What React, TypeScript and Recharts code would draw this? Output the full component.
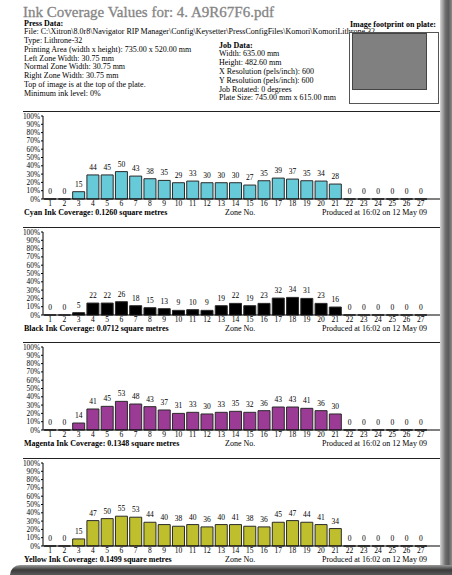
import { BarChart, Bar, XAxis, YAxis, LabelList } from "recharts";

const zones = ["1", "2", "3", "4", "5", "6", "7", "8", "9", "10", "11", "12", "13", "14", "15", "16", "17", "18", "19", "20", "21", "22", "23", "24", "25", "26", "27"];
const yTicks = [0, 10, 20, 30, 40, 50, 60, 70, 80, 90, 100];

// bar heights = coverage % per zone, labels = key values printed above each bar
const cyanCoverage = [0, 0, 8.8, 29, 29, 33, 27.6, 24.4, 22.4, 19.6, 21.6, 19.6, 19.6, 19.6, 16.8, 22, 25.2, 24, 22, 21.6, 18, 0, 0, 0, 0, 0, 0];
const cyanKeys = [0, 0, 15, 44, 45, 50, 43, 38, 35, 29, 33, 30, 30, 30, 27, 35, 39, 37, 35, 34, 28, 0, 0, 0, 0, 0, 0];
const blackCoverage = [0, 0, 2.8, 14.4, 14.4, 16, 11.2, 8.8, 7.6, 5.6, 6.4, 5.6, 11.2, 14, 11.2, 14, 20.4, 21.2, 20, 14, 9.6, 0, 0, 0, 0, 0, 0];
const blackKeys = [0, 0, 5, 22, 22, 26, 18, 15, 13, 9, 10, 9, 19, 22, 19, 23, 32, 34, 31, 23, 16, 0, 0, 0, 0, 0, 0];
const magentaCoverage = [0, 0, 8.4, 25.3, 28.5, 34.5, 31.3, 28.1, 24.1, 20, 21.3, 19.3, 21.3, 22.5, 21.3, 23.3, 27.7, 27.7, 26.1, 23.3, 19.3, 0, 0, 0, 0, 0, 0];
const magentaKeys = [0, 0, 14, 41, 45, 53, 48, 43, 37, 31, 33, 30, 33, 35, 32, 36, 43, 43, 41, 36, 30, 0, 0, 0, 0, 0, 0];
const yellowCoverage = [0, 0, 8.5, 30.6, 33, 35.9, 34.7, 28.6, 25.8, 23.8, 25.8, 23, 25.8, 25.8, 23.8, 23, 28.6, 30.6, 28.6, 25.8, 21, 0, 0, 0, 0, 0, 0];
const yellowKeys = [0, 0, 15, 47, 50, 55, 53, 44, 40, 38, 40, 36, 40, 41, 38, 36, 45, 47, 44, 41, 34, 0, 0, 0, 0, 0, 0];

const pressLines = [
  "File: C:\\Xitron\\8.0r8\\Navigator RIP Manager\\Config\\Keysetter\\PressConfigFiles\\Komori\\KomoriLithrone 32",
  "Type: Lithrone-32",
  "Printing Area (width x height): 735.00 x 520.00 mm",
  "Left Zone Width: 30.75 mm",
  "Normal Zone Width: 30.75 mm",
  "Right Zone Width: 30.75 mm",
  "Top of image is at the top of the plate.",
  "Minimum ink level: 0%",
];
const jobLines = [
  "Width: 635.00 mm",
  "Height: 482.60 mm",
  "X Resolution (pels/inch): 600",
  "Y Resolution (pels/inch): 600",
  "Job Rotated: 0 degrees",
  "Plate Size: 745.00 mm x 615.00 mm",
];

const serif = "'Liberation Serif', 'DejaVu Serif', serif";

const KeyLabel = (props: any) => {
  const { x, y, width, value } = props;
  return (
    <text x={x + width / 2} y={y - 7.5} textAnchor="middle" dominantBaseline="central" fontSize={7.5} fontFamily={serif} fill="#000">
      {value}
    </text>
  );
};

type PanelProps = {
  top: number;
  color: string;
  coverage: number[];
  keys: number[];
  caption: string;
};

const InkPanel = ({ top, color, coverage, keys, caption }: PanelProps) => {
  const data = zones.map((z, i) => ({ zone: z, coverage: coverage[i], key: keys[i] }));
  return (
    <div style={{ position: "absolute", left: 0, top, width: 452, height: 115 }}>
      <div style={{ position: "absolute", left: 23, top: 0, width: 417, borderTop: "1px solid #222" }} />
      <BarChart width={452} height={100} data={data} margin={{ top: 5, right: 12, left: 0, bottom: 0 }} barCategoryGap="8%">
        <XAxis
          dataKey="zone"
          interval={0}
          tickLine={false}
          tickSize={0}
          axisLine={{ stroke: "#000" }}
          padding={{ left: 0, right: 12 }}
          height={12}
          tickMargin={2}
          tick={{ fontSize: 7.5, fill: "#000", fontFamily: serif }}
        />
        <YAxis
          domain={[0, 100]}
          ticks={yTicks}
          width={43}
          interval={0}
          tickFormatter={(v) => v + "%"}
          tickSize={2}
          tickMargin={1}
          axisLine={{ stroke: "#000" }}
          tickLine={{ stroke: "#000" }}
          tick={{ fontSize: 7.3, fill: "#000", fontFamily: serif }}
        />
        <Bar dataKey="coverage" fill={color} stroke="#2a2a2a" strokeWidth={1} minPointSize={0.01} isAnimationActive={false}>
          <LabelList dataKey="key" content={KeyLabel} />
        </Bar>
      </BarChart>
      <div style={{ position: "absolute", left: 24, top: 97, fontSize: 8, lineHeight: "10px", fontWeight: "bold", whiteSpace: "nowrap" }}>{caption}</div>
      <div style={{ position: "absolute", left: 225, top: 97, fontSize: 8, lineHeight: "10px", whiteSpace: "nowrap" }}>Zone No.</div>
      <div style={{ position: "absolute", left: 322, top: 97, fontSize: 8, lineHeight: "10px", whiteSpace: "nowrap" }}>Produced at 16:02 on 12 May 09</div>
    </div>
  );
};

export default function App() {
  return (
    <div style={{ position: "absolute", left: 0, top: 0, width: 452, height: 575, background: "#fff", overflow: "hidden", fontFamily: serif, color: "#000" }}>
      <div style={{ position: "absolute", left: 23, top: 2, fontSize: 15, lineHeight: "20px", color: "#858585", whiteSpace: "nowrap", WebkitTextStroke: "0.3px #858585" }}>
        Ink Coverage Values for: 4. A9R67F6.pdf
      </div>
      <div style={{ position: "absolute", left: 24, top: 19.5, fontSize: 8, lineHeight: "8.75px", whiteSpace: "nowrap" }}>
        <div style={{ fontWeight: "bold" }}>Press Data:</div>
        {pressLines.map((l) => (
          <div key={l}>{l}</div>
        ))}
      </div>
      <div style={{ position: "absolute", left: 219, top: 41.6, fontSize: 8, lineHeight: "8.8px", whiteSpace: "nowrap" }}>
        <div style={{ fontWeight: "bold" }}>Job Data:</div>
        {jobLines.map((l) => (
          <div key={l}>{l}</div>
        ))}
      </div>
      <div style={{ position: "absolute", left: 350, top: 19.5, fontSize: 8, lineHeight: "9px", fontWeight: "bold", whiteSpace: "nowrap" }}>
        Image footprint on plate:
      </div>
      <div style={{ position: "absolute", left: 349, top: 32, width: 88, height: 70, border: "1px solid #555", background: "#fff" }}>
        <div style={{ position: "absolute", left: 2, top: 0, width: 73, height: 55, background: "#808080", border: "1px solid #444" }} />
      </div>

      <InkPanel top={111} color="#66cad8" coverage={cyanCoverage} keys={cyanKeys} caption="Cyan Ink Coverage: 0.1260 square metres" />
      <InkPanel top={227} color="#000000" coverage={blackCoverage} keys={blackKeys} caption="Black Ink Coverage: 0.0712 square metres" />
      <InkPanel top={342} color="#9b3b95" coverage={magentaCoverage} keys={magentaKeys} caption="Magenta Ink Coverage: 0.1348 square metres" />
      <InkPanel top={458} color="#bfbf2e" coverage={yellowCoverage} keys={yellowKeys} caption="Yellow Ink Coverage: 0.1499 square metres" />

      <div style={{ position: "absolute", left: 440, top: 0, width: 12, height: 575, background: "linear-gradient(to right, #d8d8d8, #6e6e6e 45%, #5a5a5a 70%, #8a8a8a)" }} />
      <div style={{ position: "absolute", left: 10, top: 565, width: 442, height: 10, borderTopLeftRadius: 30, background: "linear-gradient(to bottom, #9a9a9a, #3a3a3a 50%, #5a5a5a)" }} />
    </div>
  );
}
